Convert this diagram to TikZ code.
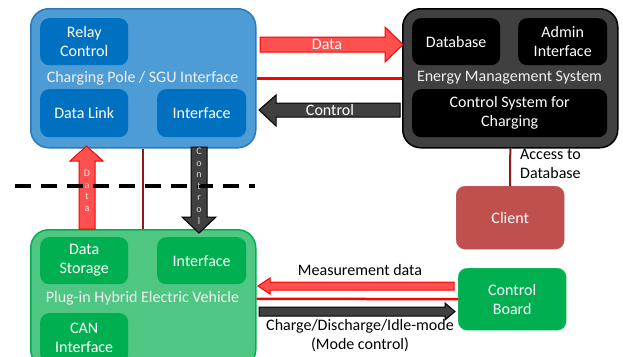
\documentclass[tikz,border=0pt]{standalone}
\usepackage{fontspec}
\setmainfont{Carlito}
\definecolor{cpfill}{HTML}{4E9CD6}
\definecolor{cpline}{HTML}{2F77BD}
\definecolor{cpin}{HTML}{0070C0}
\definecolor{emsfill}{HTML}{404040}
\definecolor{phfill}{HTML}{4FC682}
\definecolor{phin}{HTML}{00B050}
\definecolor{clientc}{HTML}{C0504D}
\definecolor{arrred}{HTML}{FF5050}
\definecolor{darkred}{HTML}{8B1A1A}
\definecolor{arrgray}{HTML}{404040}
\begin{document}
\begin{tikzpicture}[x=1pt,y=-1pt,
  outer/.style={draw, line width=1.5pt, rounded corners=18pt, anchor=north west, inner sep=0pt},
  inner/.style={rounded corners=9pt, anchor=north west, inner sep=0pt, text=white, align=center, font=\fontsize{16}{19}\selectfont},
  title/.style={text=white!94!black, font=\fontsize{16}{19}\selectfont, inner sep=0pt},
  redarrow/.style={fill=arrred, draw=red, line width=1pt, line join=miter},
  grayarrow/.style={fill=arrgray, draw=black, line width=1pt, line join=miter},
  redline/.style={draw=red, line width=2.5pt},
  drline/.style={draw=darkred, line width=2pt},
  lbl/.style={font=\fontsize{16}{19}\selectfont, inner sep=0pt},
  vlbl/.style={font=\fontsize{10}{11.6}\selectfont, inner sep=0pt, align=center}
]
\useasboundingbox (0,0) rectangle (623,356);
% outer boxes
\node[outer, fill=cpfill, draw=cpline, minimum width=225pt, minimum height=139pt] (cp) at (30,8) {};
\node[outer, fill=emsfill, draw=black, minimum width=215pt, minimum height=139pt] (ems) at (402,8) {};
\node[outer, fill=phfill, draw=phin, minimum width=225pt, minimum height=138pt] (phev) at (30,229) {};
\node[inner, fill=clientc, draw=clientc!90!white, minimum width=108pt, minimum height=63pt] (client) at (456,186) {Client};
\node[inner, fill=phin, draw=phin!80!white, minimum width=108pt, minimum height=62pt] (cb) at (458,268) {Control\\Board};
% inner boxes
\node[inner, fill=cpin, minimum width=88pt, minimum height=47pt] (relay) at (40,18) {Relay\\Control};
\node[inner, fill=cpin, minimum width=88pt, minimum height=48pt] (dlink) at (40,89) {Data Link};
\node[inner, fill=cpin, minimum width=89pt, minimum height=48pt] (cpif) at (157,89) {Interface};
\node[inner, fill=black, minimum width=88pt, minimum height=47pt] (db) at (412,18) {Database};
\node[inner, fill=black, minimum width=89pt, minimum height=47pt] (admin) at (518,18) {Admin\\Interface};
\node[inner, fill=black, minimum width=195pt, minimum height=48pt] (css) at (412,89) {Control System for\\Charging};
\node[inner, fill=phin, minimum width=88pt, minimum height=47pt] (ds) at (40,237) {Data\\Storage};
\node[inner, fill=phin, minimum width=89pt, minimum height=47pt] (pif) at (157,237) {Interface};
\node[inner, fill=phin, minimum width=88pt, minimum height=50pt] (can) at (40,313) {CAN\\Interface};
% titles
\node[title] (cpt) at (142.5,78) {Charging Pole / SGU Interface};
\node[title] (emst) at (509.5,78) {Energy Management System};
\node[title] (pht) at (142.5,298) {Plug-in Hybrid Electric Vehicle};
% plain connectors
\draw[redline] (cp.east) -- (ems.west);
\draw[drline] (cp.south) -- (phev.north);
\draw[drline] (ems.south) -- (client.north);
\draw[redline] (phev.east) -- (cb.west);
% block arrows
\draw[redarrow] (260,37) -- (385,37) -- (385,27) -- (403,44.5) -- (385,62) -- (385,52) -- (260,52) -- cycle;
\node[lbl, text=white] (datal) at (327,44.5) {Data};
\draw[grayarrow] (400,103) -- (276,103) -- (276,95) -- (259,110) -- (276,126) -- (276,117) -- (400,117) -- cycle;
\node[lbl, text=white] (ctrll) at (330,110) {Control};
\draw[redarrow] (79,229) -- (79,161) -- (70,161) -- (86.5,146) -- (103,161) -- (95,161) -- (95,229) -- cycle;
\draw[grayarrow] (191,147) -- (191,217) -- (182,217) -- (199,233) -- (216,217) -- (207,217) -- (207,147) -- cycle;
% dashed separator (drawn over the vertical arrows)
\coordinate (dsL) at (15,186);
\coordinate (dsR) at (255,186);
\draw[line width=3.5pt, dash pattern=on 16pt off 10pt] (dsL) -- (dsR);
\node[vlbl, text=white!90!red] (vdata) at (87,191) {D\\a\\t\\a};
\node[vlbl, text=white!85!black] (vctrl) at (199,186) {C\\o\\n\\t\\r\\o\\l};
\draw[redarrow] (454,282) -- (270,282) -- (270,278) -- (258,286) -- (270,294) -- (270,290) -- (454,290) -- cycle;
\node[lbl] (measl) at (360,270) {Measurement data};
\draw[grayarrow] (259,307) -- (445,307) -- (445,303) -- (455,311.5) -- (445,320) -- (445,316) -- (259,316) -- cycle;
\node[lbl, align=center] (chgl) at (360,336) {Charge/Discharge/Idle-mode\\(Mode control)};
\node[lbl, align=left, anchor=west] (accl) at (520,163.5) {Access to\\Database};
\end{tikzpicture}
\end{document}
